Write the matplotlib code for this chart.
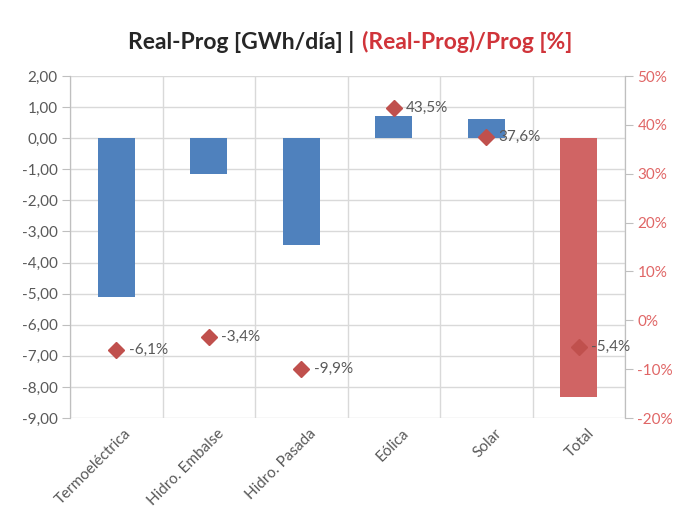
#!/usr/bin/env python3
"""Real-Prog por tecnología: barras GWh/día + diamantes % en eje derecho."""
import numpy as np
import matplotlib

matplotlib.use("Agg")
import matplotlib.pyplot as plt
import matplotlib.transforms as mtransforms

categories = ["Termoeléctrica", "Hidro. Embalse", "Hidro. Pasada", "Eólica", "Solar", "Total"]
diff_gwh = [-5.11, -1.16, -3.44, 0.71, 0.61, -8.33]
diff_pct = [-6.1, -3.4, -9.9, 43.5, 37.6, -5.4]
left_ticks = np.arange(-9, 3, 1)
right_ticks = np.arange(-20, 60, 10)

blue = "#4F81BD"
red_bar = "#D06464"
red_mk = "#C0504D"
grey_txt = "#595959"
grid_c = "#D9D9D9"

plt.rcParams["font.family"] = ["Lato", "DejaVu Sans"]

fig = plt.figure(figsize=(6.84, 5.25), dpi=100)
ax = fig.add_axes([70 / 684, 1 - 418 / 525, 555 / 684, 342 / 525])
ax2 = ax.twinx()

x = np.arange(len(categories))
colors = [blue] * (len(categories) - 1) + [red_bar]
ax.bar(x, diff_gwh, width=0.4, color=colors, zorder=2)

ax.set_xlim(-0.5, len(categories) - 0.5)
ax.set_ylim(-9, 2)
ax.set_yticks(left_ticks)
ax.set_yticklabels([f"{v:.2f}".replace(".", ",") for v in left_ticks])
ax.set_xticks(x)
ax.set_xticklabels(categories, rotation=45, ha="right", rotation_mode="anchor")
ax.set_xticks(np.arange(-0.5, len(categories), 1), minor=True)
ax.grid(axis="y", color=grid_c, lw=1, zorder=0)
ax.grid(axis="x", which="minor", color=grid_c, lw=1, zorder=0)
ax.tick_params(axis="x", which="both", length=0, colors=grey_txt, labelsize=11, pad=6)
ax.tick_params(axis="y", length=6, color="#BFBFBF", colors=grey_txt, labelsize=11, pad=3)
shift = mtransforms.ScaledTranslation(8 / 100, 0, fig.dpi_scale_trans)
for lab in ax.get_xticklabels():
    lab.set_transform(lab.get_transform() + shift)

ax2.plot(x, diff_pct, linestyle="none", marker="D", ms=8, color=red_mk, zorder=3)
for xi, p in zip(x, diff_pct):
    ax2.annotate(f"{p:.1f}%".replace(".", ","), (xi, p), xytext=(9, 0),
                 textcoords="offset points", va="center", ha="left",
                 fontsize=11, color=grey_txt)
ax2.set_ylim(-20, 50)
ax2.set_yticks(right_ticks)
ax2.set_yticklabels([f"{v}%" for v in right_ticks])
ax2.tick_params(axis="y", length=6, color="#BFBFBF", colors="#E06666", labelsize=11, pad=3)

for a in (ax, ax2):
    for side in ("top", "bottom"):
        a.spines[side].set_visible(False)
    a.spines["left"].set_color("#BFBFBF")
    a.spines["right"].set_color("#BFBFBF")

fig.text(354 / 684, 1 - 42 / 525, "Real-Prog [GWh/día] |", ha="right", va="center",
         fontsize=16.5, fontweight="bold", color="#262626")
fig.text(362 / 684, 1 - 42 / 525, "(Real-Prog)/Prog [%]", ha="left", va="center",
         fontsize=16.5, fontweight="bold", color="#D0343A")

plt.savefig("out.png", dpi=100)
plt.close()
